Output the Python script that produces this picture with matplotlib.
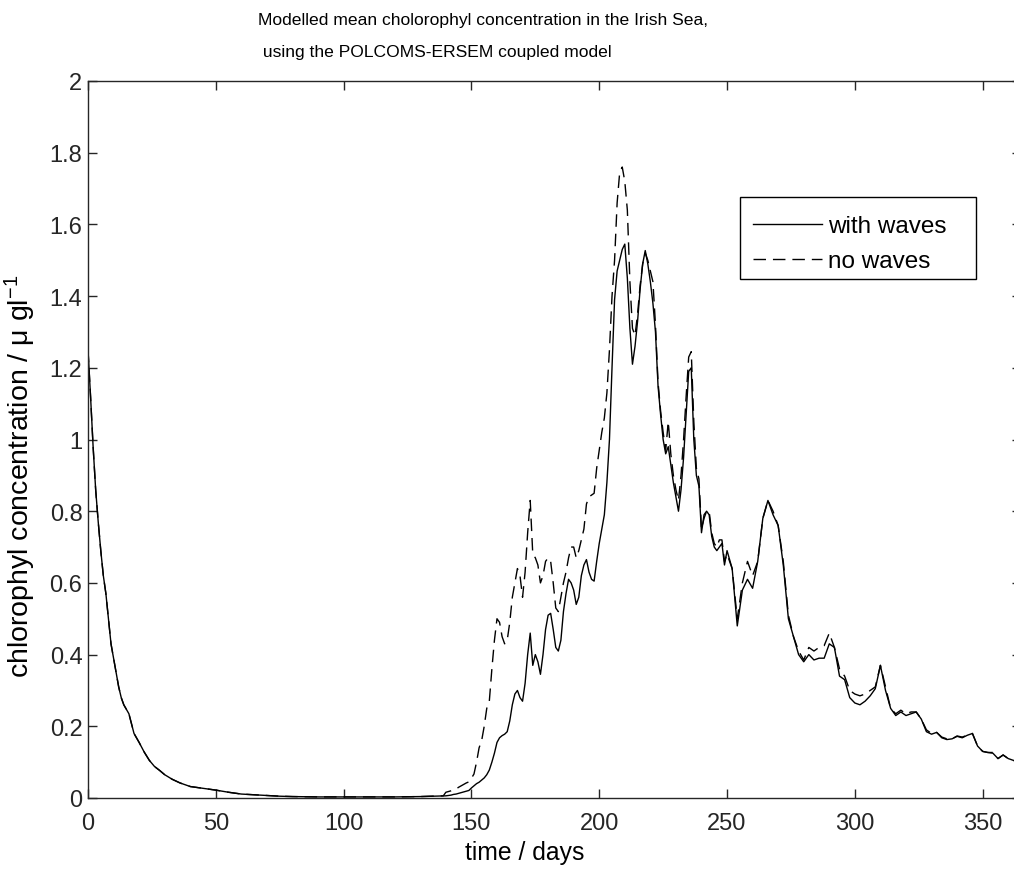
import matplotlib
matplotlib.use("Agg")
import matplotlib.pyplot as plt
from matplotlib.patches import Rectangle
import numpy as np

# early decay, both runs identical
early_days = [0, 1, 2, 3, 4, 5, 6, 7, 8, 9, 10, 11, 12, 13, 14, 16, 18, 20, 22, 24,
              26, 28, 30, 33, 36, 40, 45, 50, 55, 60, 65, 70, 75, 80, 90, 100, 110,
              120, 130, 135, 139]
early_chl = [1.25, 1.12, 0.98, 0.86, 0.77, 0.69, 0.62, 0.57, 0.50, 0.43, 0.39, 0.35,
             0.31, 0.28, 0.26, 0.235, 0.18, 0.155, 0.128, 0.105, 0.088, 0.077, 0.065,
             0.052, 0.042, 0.032, 0.027, 0.022, 0.016, 0.011, 0.009, 0.007, 0.005,
             0.004, 0.003, 0.003, 0.003, 0.003, 0.004, 0.005, 0.006]

# spring/summer bloom, daily
bloom_days = list(range(140, 251))
bloom_waves = [
    0.006, 0.007, 0.008, 0.010, 0.011, 0.013, 0.015, 0.017, 0.019, 0.021,
    0.028, 0.034, 0.040, 0.044, 0.050, 0.056, 0.065, 0.078, 0.10, 0.125,
    0.155, 0.168, 0.174, 0.178, 0.185, 0.215, 0.26, 0.29, 0.30, 0.28,
    0.27, 0.32, 0.40, 0.46, 0.37, 0.40, 0.38, 0.345, 0.40, 0.47,
    0.51, 0.515, 0.47, 0.42, 0.41, 0.44, 0.52, 0.57, 0.61, 0.60,
    0.58, 0.54, 0.56, 0.62, 0.65, 0.665, 0.63, 0.61, 0.605, 0.66,
    0.71, 0.75, 0.79, 0.88, 1.00, 1.20, 1.39, 1.47, 1.50, 1.53,
    1.545, 1.45, 1.31, 1.21, 1.26, 1.33, 1.42, 1.49, 1.527, 1.49,
    1.44, 1.38, 1.30, 1.15, 1.07, 1.00, 0.96, 0.98, 0.93, 0.88,
    0.84, 0.80, 0.86, 0.95, 1.07, 1.19, 1.20, 1.00, 0.90, 0.87,
    0.74, 0.79, 0.80, 0.79, 0.73, 0.70, 0.69, 0.70, 0.71, 0.65,
    0.69,
]
bloom_nowaves = [
    0.016, 0.018, 0.020, 0.023, 0.025, 0.030, 0.034, 0.038, 0.042, 0.045,
    0.055, 0.067, 0.10, 0.14, 0.16, 0.20, 0.25, 0.27, 0.36, 0.44,
    0.50, 0.49, 0.45, 0.43, 0.44, 0.49, 0.56, 0.60, 0.64, 0.62,
    0.56, 0.63, 0.74, 0.83, 0.68, 0.67, 0.65, 0.60, 0.62, 0.66,
    0.67, 0.66, 0.60, 0.53, 0.52, 0.56, 0.60, 0.63, 0.67, 0.70,
    0.70, 0.67, 0.69, 0.72, 0.75, 0.82, 0.84, 0.845, 0.85, 0.92,
    0.97, 1.02, 1.06, 1.13, 1.25, 1.40, 1.50, 1.66, 1.745, 1.76,
    1.72, 1.64, 1.44, 1.31, 1.29, 1.35, 1.43, 1.49, 1.52, 1.50,
    1.47, 1.44, 1.32, 1.16, 1.08, 1.02, 0.97, 1.05, 0.96, 0.90,
    0.86, 0.83, 0.90, 1.00, 1.12, 1.23, 1.245, 1.05, 0.92, 0.89,
    0.75, 0.78, 0.80, 0.80, 0.74, 0.71, 0.70, 0.72, 0.72, 0.66,
    0.68,
]

# autumn decline, every 2 days
late_days = list(range(252, 365, 2))
late_waves = [
    0.64, 0.48, 0.58, 0.61, 0.585, 0.66, 0.78, 0.83, 0.79, 0.76,
    0.65, 0.50, 0.45, 0.40, 0.38, 0.40, 0.385, 0.39, 0.39, 0.43,
    0.42, 0.34, 0.33, 0.28, 0.265, 0.26, 0.27, 0.285, 0.305, 0.37,
    0.30, 0.25, 0.23, 0.24, 0.23, 0.235, 0.24, 0.22, 0.185, 0.178,
    0.183, 0.168, 0.163, 0.165, 0.172, 0.168, 0.175, 0.18, 0.145, 0.13,
    0.127, 0.125, 0.11, 0.12, 0.11, 0.105, 0.10,
]
late_nowaves = [
    0.64, 0.50, 0.60, 0.66, 0.62, 0.66, 0.78, 0.83, 0.80, 0.76,
    0.66, 0.51, 0.45, 0.41, 0.385, 0.42, 0.41, 0.42, 0.425, 0.46,
    0.42, 0.36, 0.34, 0.30, 0.29, 0.285, 0.29, 0.30, 0.31, 0.37,
    0.31, 0.25, 0.235, 0.245, 0.235, 0.24, 0.24, 0.22, 0.19, 0.18,
    0.183, 0.17, 0.165, 0.165, 0.173, 0.17, 0.175, 0.18, 0.145, 0.13,
    0.127, 0.127, 0.11, 0.12, 0.11, 0.105, 0.10,
]

x_ticks = [0, 50, 100, 150, 200, 250, 300, 350]
y_ticks = [0, 0.2, 0.4, 0.6, 0.8, 1, 1.2, 1.4, 1.6, 1.8, 2]
y_tick_labels = ["0", "0.2", "0.4", "0.6", "0.8", "1", "1.2", "1.4", "1.6", "1.8", "2"]

days = np.array(early_days + bloom_days + late_days)
with_waves = np.array(early_chl + bloom_waves + late_waves)
no_waves = np.array(early_chl + bloom_nowaves + late_nowaves)

plt.rcParams["font.family"] = ["Liberation Sans", "DejaVu Sans"]
plt.rcParams["mathtext.fontset"] = "custom"
plt.rcParams["mathtext.rm"] = "Liberation Sans"
plt.rcParams["mathtext.it"] = "Liberation Sans:italic"

W, H = 1014, 870
fig = plt.figure(figsize=(W / 100, H / 100), dpi=100)
left, right, top, bottom = 88, 1021, 82, 799
ax = fig.add_axes([left / W, 1 - bottom / H, (right - left) / W, (bottom - top) / H])

ax.plot(days, with_waves, color="black", lw=1.0, label="with waves")
ax.plot(days, no_waves, color="black", lw=1.0, dashes=(9, 5), label="no waves")

ax.set_xlim(0, 365)
ax.set_ylim(0, 2)
ax.set_xticks(x_ticks)
ax.set_yticks(y_ticks, y_tick_labels)
ax.tick_params(direction="in", top=True, right=True, length=6.5, width=1.0,
               labelsize=17, colors="#262626")
ax.tick_params(axis="x", pad=10)
ax.tick_params(axis="y", pad=4)
for spine in ax.spines.values():
    spine.set_linewidth(1.0)
    spine.set_color("#262626")

ax.set_xlabel("time / days", fontsize=17.8)
ax.xaxis.set_label_coords((525 - left) / (right - left), -0.058)
ax.set_ylabel("chlorophyl concentration / μ gl$^{-1}$", fontsize=20.5)
ax.yaxis.set_label_coords((38 - left) / (right - left), (799 - 476) / (bottom - top))

fig.text(258 / W, 1 - 20 / H, "Modelled mean cholorophyl concentration in the Irish Sea,",
         fontsize=12.6, ha="left", va="center")
fig.text(258 / W, 1 - 52 / H, " using the POLCOMS-ERSEM coupled model",
         fontsize=12.6, ha="left", va="center")

# legend: MATLAB style box drawn separately so its size matches the reference
leg = ax.legend(loc="upper left", bbox_to_anchor=(753 / W, 1 - 216 / H),
                bbox_transform=fig.transFigure, fontsize=17.5, frameon=False,
                borderaxespad=0, borderpad=0, handlelength=2.84,
                handletextpad=0.25, labelspacing=0.55)
fig.patches.append(Rectangle((740 / W, 1 - 280 / H), 236 / W, 82 / H,
                             transform=fig.transFigure, fill=False,
                             edgecolor="black", linewidth=1.0, zorder=5))

fig.savefig("out.png", dpi=100)
